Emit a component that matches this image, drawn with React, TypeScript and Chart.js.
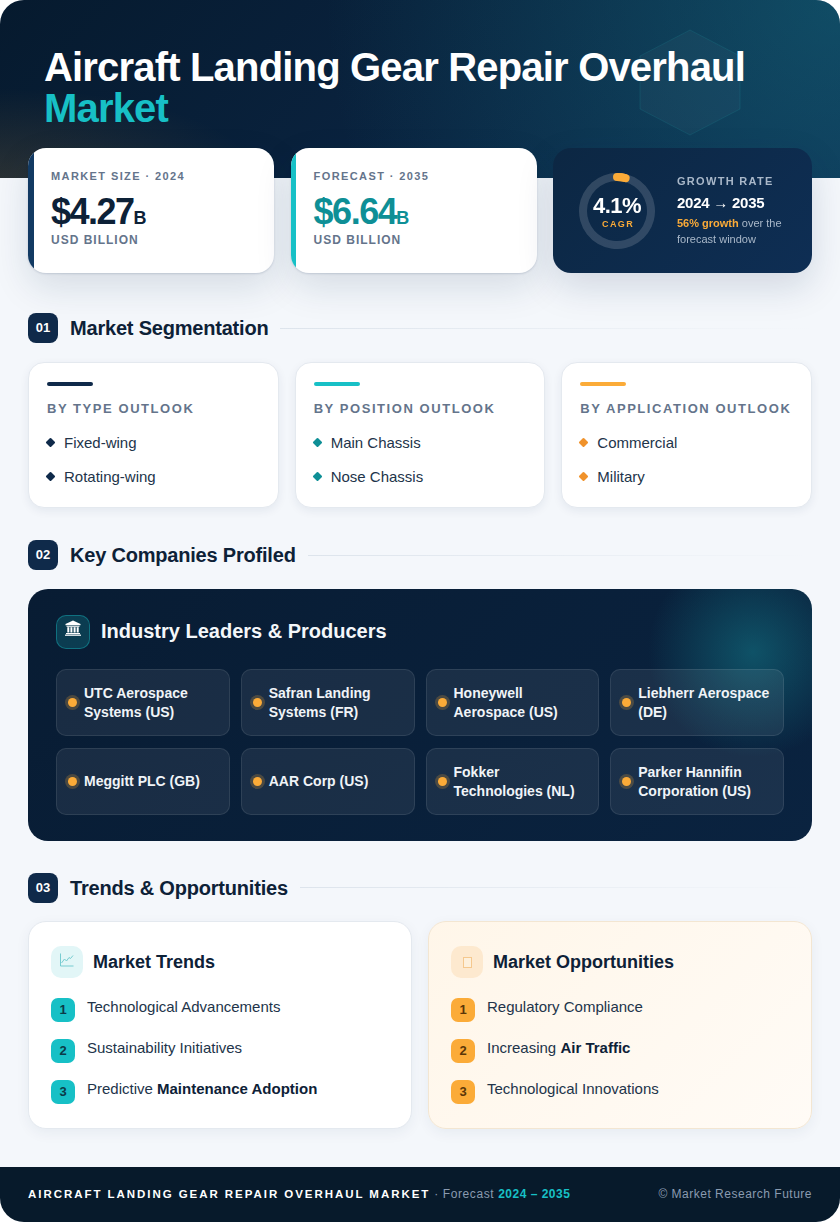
import { useEffect, useRef } from "react";
import type { CSSProperties, ReactNode } from "react";
import Chart from "chart.js/auto";

const cagrValues = [4.1, 95.9];
const cagrLabels = ["CAGR", "Remainder"];

const segmentTitles = ["BY TYPE OUTLOOK", "BY POSITION OUTLOOK", "BY APPLICATION OUTLOOK"];
const segmentItems = [
  ["Fixed-wing", "Rotating-wing"],
  ["Main Chassis", "Nose Chassis"],
  ["Commercial", "Military"],
];
const companies = [
  ["UTC Aerospace", "Systems (US)"],
  ["Safran Landing", "Systems (FR)"],
  ["Honeywell", "Aerospace (US)"],
  ["Liebherr Aerospace", "(DE)"],
  ["Meggitt PLC (GB)"],
  ["AAR Corp (US)"],
  ["Fokker", "Technologies (NL)"],
  ["Parker Hannifin", "Corporation (US)"],
];

const NAVY = "#0f2a4a";
const INK = "#0d2137";
const TEAL = "#17c0c6";
const DEEP_TEAL = "#0e8f96";
const AMBER = "#fbab38";
const SLATE = "#64748b";
const segmentBars = [NAVY, TEAL, AMBER];
const segmentDots = [NAVY, DEEP_TEAL, "#f0922b"];
const segmentX = [28, 294.67, 561.33];
const companyX = [56, 240.75, 425.5, 610.25];

const abs = (left: number, top: number, width: number, height: number, rest: CSSProperties = {}): CSSProperties => ({
  position: "absolute",
  left,
  top,
  width,
  height,
  boxSizing: "border-box",
  ...rest,
});

// one line of text, vertically centred on y
const Line = ({ x, y, size, color, weight = 400, spacing = 0, right, children }: {
  x?: number; y: number; size: number; color: string; weight?: number; spacing?: number; right?: number; children: ReactNode;
}) => (
  <div
    style={{
      position: "absolute",
      left: x,
      right,
      top: y - 15,
      height: 30,
      lineHeight: "30px",
      fontSize: size,
      color,
      fontWeight: weight,
      letterSpacing: spacing,
      whiteSpace: "pre",
    }}
  >
    {children}
  </div>
);

const CagrGauge = () => {
  const chartRef = useRef<HTMLCanvasElement | null>(null);

  useEffect(() => {
    const ctx = chartRef.current?.getContext("2d");
    if (!ctx) return;

    const chart = new Chart(ctx, {
      type: "doughnut",
      data: {
        labels: cagrLabels,
        datasets: [
          {
            data: cagrValues,
            backgroundColor: [AMBER, "rgba(255,255,255,0.15)"],
            borderWidth: 0,
          },
        ],
      },
      options: {
        responsive: false,
        animation: false,
        cutout: "79%",
        layout: { padding: 0 },
        plugins: { legend: { display: false }, tooltip: { enabled: false } },
      },
      plugins: [
        {
          // round caps on the value slice, doughnut arcs only have inset corners
          id: "roundCap",
          afterDatasetsDraw: (c) => {
            const arc: any = c.getDatasetMeta(0).data[0];
            const { x, y, startAngle, endAngle, innerRadius, outerRadius } = arc.getProps(
              ["x", "y", "startAngle", "endAngle", "innerRadius", "outerRadius"],
              true,
            );
            const g = c.ctx;
            g.save();
            g.beginPath();
            g.arc(x, y, (innerRadius + outerRadius) / 2, startAngle, endAngle);
            g.lineWidth = outerRadius - innerRadius;
            g.lineCap = "round";
            g.strokeStyle = AMBER;
            g.stroke();
            g.restore();
          },
        },
      ],
    });

    return () => {
      chart.destroy();
    };
  }, []);

  return <canvas ref={chartRef} width={76} height={76} style={{ position: "absolute", left: 579, top: 173, width: 76, height: 76 }} />;
};

const SectionHead = ({ y, num, title, ruleX }: { y: number; num: string; title: string; ruleX: number }) => (
  <>
    <div style={abs(28, y - 15, 30, 30, { background: NAVY, borderRadius: 8, color: "#fff", fontSize: 13, fontWeight: 700, textAlign: "center", lineHeight: "30px" })}>{num}</div>
    <Line x={70} y={y} size={20} color={INK} weight={700} spacing={-0.2}>{title}</Line>
    <div style={abs(ruleX, y - 0.5, 812 - ruleX, 1, { background: "linear-gradient(90deg,#dde4ec,rgba(221,228,236,0))" })} />
  </>
);

const KpiCard = ({ x, bar, label, value, color }: { x: number; bar: string; label: string; value: string; color: string }) => (
  <>
    <div style={abs(x, 148, 246, 125, { background: "#fff", borderRadius: 18, overflow: "hidden", boxShadow: "0 1px 2px rgba(13,43,78,.15), 0 14px 36px rgba(13,43,78,.13)" })}>
      <div style={abs(0, 0, 5.5, 125, { background: bar })} />
    </div>
    <Line x={x + 23} y={176} size={11} color={SLATE} weight={700} spacing={1.4}>{label}</Line>
    <Line x={x + 23} y={211.5} size={36} color={color} weight={700} spacing={-1.5}>
      {value}
      <span style={{ fontSize: 18, letterSpacing: 0 }}>B</span>
    </Line>
    <Line x={x + 23} y={240} size={12} color={SLATE} weight={700} spacing={1}>USD BILLION</Line>
  </>
);

const TrendIcon = () => (
  <svg style={abs(59, 953, 15, 14)} viewBox="0 0 15 14" fill="none" stroke="#6cc7cc" strokeWidth="0.9">
    <path d="M1.5 0.5V13H14.5" />
    <path d="M2.5 10L5.5 6L7.5 8L10 4.5L11.5 5.5L14 2.5" />
  </svg>
);

const MissingGlyph = () => <div style={abs(462.5, 957, 9, 11, { background: "#fdf0dc", border: "1.3px solid #f5c88e" })} />;

const TempleIcon = () => (
  <svg style={abs(65, 620, 16, 16)} viewBox="0 0 16 16" fill="#fff">
    <path d="M8 0.5L15.5 4V5.2H0.5V4Z" />
    <rect x="1.5" y="5.8" width="13" height="1" />
    <rect x="2.3" y="7.2" width="2" height="5.3" />
    <rect x="5.4" y="7.2" width="2" height="5.3" />
    <rect x="8.6" y="7.2" width="2" height="5.3" />
    <rect x="11.7" y="7.2" width="2" height="5.3" />
    <rect x="1" y="13" width="14" height="1.2" />
    <rect x="0" y="14.6" width="16" height="1.2" />
  </svg>
);

const ListCard = ({ x, warm, icon, title, items, badge, iconBg }: {
  x: number; warm: boolean; icon: ReactNode; title: string; items: ReactNode[]; badge: string; iconBg: string;
}) => (
  <>
    <div
      style={abs(x, 921, 384, 208, {
        background: warm ? "linear-gradient(135deg,#fff6e9,#fffbf6)" : "#fff",
        border: `1px solid ${warm ? "#f3e6d2" : "#e4e9ef"}`,
        borderRadius: 18,
        boxShadow: "0 4px 14px rgba(13,43,78,.06)",
      })}
    />
    <div style={abs(x + 23, 946, 32, 32, { background: iconBg, borderRadius: 10 })} />
    {icon}
    <Line x={x + 65} y={962} size={18} color={INK} weight={700}>{title}</Line>
    {items.map((item, i) => (
      <div key={i}>
        <div style={abs(x + 23, 998 + i * 41, 24, 24, { background: badge, borderRadius: 7, color: warm ? "#5a3608" : "#0b3a48", fontSize: 13, fontWeight: 700, textAlign: "center", lineHeight: "24px" })}>{i + 1}</div>
        <Line x={x + 59} y={1007 + i * 41} size={15} color="#22344a">{item}</Line>
      </div>
    ))}
  </>
);

export default function App() {
  return (
    <div style={{ position: "relative", width: 840, height: 1222, overflow: "hidden", fontFamily: "'Liberation Sans', Arial, sans-serif", background: "#f4f7fb", borderRadius: 24 }}>
      <style>{"body{margin:0;background:#fff}"}</style>

      {/* header band */}
      <div
        style={abs(0, 0, 840, 178, {
          background:
            "radial-gradient(circle at 100% 0%, rgba(24,140,150,.36), rgba(24,140,150,0) 60%), radial-gradient(ellipse 260px 90px at 0% 100%, rgba(251,171,56,.14), rgba(251,171,56,0)), linear-gradient(135deg,#061a2e,#0d2b4f)",
        })}
      />
      <svg style={abs(635, 25, 110, 115)} viewBox="0 0 110 115">
        <polygon points="55,5 105,31 105,84 55,110 5,84 5,31" fill="rgba(255,255,255,.03)" stroke="rgba(40,200,200,.12)" />
      </svg>
      <Line x={44} y={67} size={40} color="#fff" weight={700} spacing={-0.82}>Aircraft Landing Gear Repair Overhaul</Line>
      <Line x={44} y={108} size={40} color={TEAL} weight={700} spacing={-0.82}>Market</Line>

      {/* headline numbers */}
      <KpiCard x={28} bar="#123a63" label="MARKET SIZE · 2024" value="$4.27" color={INK} />
      <KpiCard x={290.6} bar={TEAL} label="FORECAST · 2035" value="$6.64" color={DEEP_TEAL} />
      <div style={abs(553, 148, 259, 125, { background: "linear-gradient(135deg,#0c2743,#0e2e54)", borderRadius: 18, boxShadow: "0 14px 36px rgba(13,43,78,.15)" })} />
      <CagrGauge />
      <Line x={593} y={206} size={22} color="#fff" weight={700} spacing={-0.5}>4.1%</Line>
      <Line x={602} y={224} size={9} color={AMBER} weight={700} spacing={1.4}>CAGR</Line>
      <Line x={677} y={181} size={11} color="#a9b8c9" weight={700} spacing={1.3}>GROWTH RATE</Line>
      <Line x={677} y={203} size={15} color="#fff" weight={700} spacing={-0.25}>2024 → 2035</Line>
      <Line x={677} y={223} size={11} color="#a9b8c9"><b style={{ color: AMBER }}>56% growth</b> over the</Line>
      <Line x={677} y={239} size={11} color="#a9b8c9">forecast window</Line>

      <SectionHead y={328} num="01" title="Market Segmentation" ruleX={280} />
      {segmentTitles.map((title, i) => (
        <div key={title}>
          <div style={abs(segmentX[i], 362, 250.67, 146, { background: "#fff", border: "1px solid #e4e9ef", borderRadius: 16, boxShadow: "0 3px 10px rgba(13,43,78,.07)" })} />
          <div style={abs(segmentX[i] + 19, 382, 46, 4, { background: segmentBars[i], borderRadius: 2 })} />
          <Line x={segmentX[i] + 19} y={408.5} size={13} color={SLATE} weight={700} spacing={1.56}>{title}</Line>
          {segmentItems[i].map((item, j) => (
            <div key={item}>
              <div style={abs(segmentX[i] + 19, 439 + j * 34, 7, 7, { background: segmentDots[i], transform: "rotate(45deg)", borderRadius: 1 })} />
              <Line x={segmentX[i] + 36} y={442.5 + j * 34} size={15} color="#22344a">{item}</Line>
            </div>
          ))}
        </div>
      ))}

      <SectionHead y={555} num="02" title="Key Companies Profiled" ruleX={308} />
      <div
        style={abs(28, 589, 784, 252, {
          background: "radial-gradient(circle at 725px 63px, rgba(20,130,145,.5), rgba(20,130,145,0) 105px), linear-gradient(135deg,#081c33,#0a2340)",
          borderRadius: 20,
        })}
      />
      <div style={abs(56, 615, 34, 34, { background: "rgba(23,192,198,.2)", border: "1px solid rgba(23,192,198,.4)", borderRadius: 10 })} />
      <TempleIcon />
      <Line x={101} y={631} size={20} color="#f4f7fa" weight={700}>Industry Leaders &amp; Producers</Line>
      {companies.map((lines, i) => {
        const x = companyX[i % 4];
        const top = i < 4 ? 668.5 : 747.5;
        const h = i < 4 ? 67.5 : 67;
        const mid = top + h / 2;
        return (
          <div key={lines[0]}>
            <div style={abs(x, top, 173.75, h, { background: "rgba(255,255,255,.07)", border: "1px solid rgba(255,255,255,.09)", borderRadius: 10 })} />
            <div style={abs(x + 12, mid - 4.5, 9, 9, { background: AMBER, borderRadius: "50%", boxShadow: "0 0 0 3px rgba(251,171,56,.22)" })} />
            {lines.map((line, j) => (
              <Line key={line} x={x + 28} y={mid + (j - (lines.length - 1) / 2) * 19} size={14} color="#f0f4f8" weight={700}>{line}</Line>
            ))}
          </div>
        );
      })}

      <SectionHead y={887.5} num="03" title="Trends & Opportunities" ruleX={300} />
      <ListCard
        x={28}
        warm={false}
        icon={<TrendIcon />}
        title="Market Trends"
        badge={TEAL}
        iconBg="#e2f6f7"
        items={["Technological Advancements", "Sustainability Initiatives", <>Predictive <b style={{ color: INK }}>Maintenance Adoption</b></>]}
      />
      <ListCard
        x={428}
        warm
        icon={<MissingGlyph />}
        title="Market Opportunities"
        badge={AMBER}
        iconBg="#fde9cf"
        items={["Regulatory Compliance", <>Increasing <b style={{ color: INK }}>Air Traffic</b></>, "Technological Innovations"]}
      />

      <div style={abs(0, 1167, 840, 55, { background: "#071a2b" })} />
      <Line x={28} y={1193.5} size={11.5} color="#fff" weight={700} spacing={1.95}>
        AIRCRAFT LANDING GEAR REPAIR OVERHAUL MARKET
        <span style={{ fontWeight: 400, color: "#8a9bb0", letterSpacing: 0.6, fontSize: 12 }}> · Forecast </span>
        <span style={{ color: TEAL, letterSpacing: 0.5, fontSize: 12 }}>2024 – 2035</span>
      </Line>
      <Line right={28} y={1193.5} size={12} color="#8a9bb0" spacing={0.5}>© Market Research Future</Line>
    </div>
  );
}
